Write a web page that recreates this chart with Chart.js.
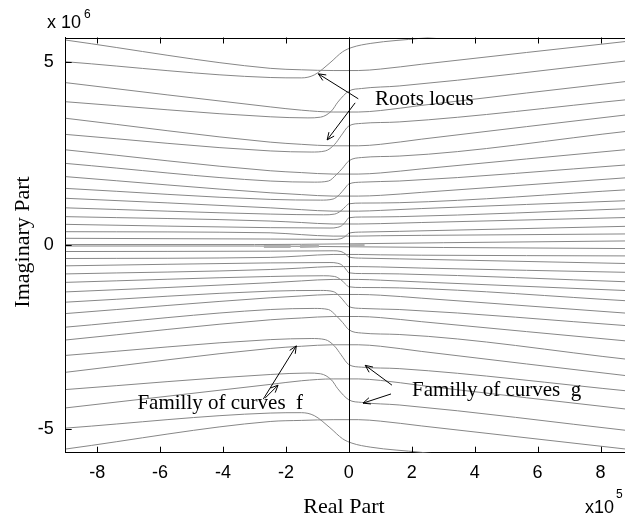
<!DOCTYPE html>
<html><head><meta charset="utf-8">
<script src="https://cdn.jsdelivr.net/npm/chart.js@4/dist/chart.umd.min.js"></script>
<style>
html,body{margin:0;padding:0;background:#fff;overflow:hidden;width:625px;height:518px}
#wrap{position:absolute;left:0;top:0;width:640px;height:518px}
</style></head><body>
<div id="wrap"><canvas id="c" width="640" height="518"></canvas></div>
<script>
// tick labels (x in units of 1e5, y in units of 1e6)
const xTicks = [-8,-6,-4,-2,0,2,4,6,8];
const yTicks = [-5,0,5];

// upper half: smooth bowl-shaped curves
const curveA1 = [[-9,5.59],[-2.5,4.82],[-1.5,4.78],[-0.5,4.76],[0.3,4.76],[1,4.80],[2.3,4.93],[9,5.57]];
const curveA2 = [[-9,4.43],[-2.5,3.77],[-1.5,3.68],[-0.5,3.63],[0.3,3.63],[1,3.67],[2.3,3.81],[9,4.48]];
const curveA3 = [[-9,3.46],[-2.5,2.81],[-1.5,2.75],[-0.5,2.71],[0.3,2.71],[1,2.75],[2.3,2.89],[9,3.57]];
const curveA4 = [[-9,2.60],[-2.5,2.03],[-1.5,1.98],[-0.5,1.94],[0.3,1.94],[1,1.97],[2.3,2.08],[9,2.62]];
const curveA5 = [[-9,1.87],[-2.5,1.43],[-1.5,1.38],[-0.5,1.34],[0.3,1.34],[1,1.36],[2.3,1.44],[9,1.85]];
const curveA6 = [[-9,1.28],[-2.5,1.02],[-1.5,0.97],[-0.5,0.93],[0.3,0.93],[1,0.95],[2.3,1.00],[9,1.22]];
const curveA7 = [[-9,0.78],[-2.5,0.66],[-1.5,0.62],[-0.5,0.58],[0.3,0.58],[1,0.59],[2.3,0.62],[9,0.76]];
const curveA8 = [[-9,0.37],[-2.5,0.34],[-1.5,0.29],[-0.5,0.25],[0.3,0.25],[1,0.26],[2.3,0.27],[9,0.31]];
// upper half: curves with a dip and a step near the imaginary axis
const curveB1 = [[-9,5.00],[-2.5,4.57],[-1.5,4.56],[-1.1,4.64],[-0.6,4.97],[-0.2,5.27],[0.1,5.39],[0.7,5.50],[2.3,5.64],[9,6.31]];
const curveB2 = [[-9,3.91],[-2.5,3.50],[-1.3,3.47],[-0.9,3.49],[-0.55,3.66],[-0.35,3.90],[0,4.20],[0.4,4.27],[1.6,4.34],[9,5.04]];
const curveB3 = [[-9,3.02],[-2.5,2.57],[-1.2,2.54],[-0.75,2.57],[-0.45,2.75],[-0.25,2.98],[0,3.25],[0.4,3.32],[1.6,3.36],[9,3.98]];
const curveB4 = [[-9,2.23],[-2.5,1.75],[-1.1,1.72],[-0.65,1.75],[-0.4,1.92],[-0.2,2.10],[0,2.30],[0.4,2.39],[1.6,2.43],[9,3.12]];
const curveB5 = [[-9,1.55],[-2.5,1.25],[-0.9,1.23],[-0.5,1.26],[-0.3,1.38],[-0.12,1.56],[0,1.67],[0.4,1.72],[1.6,1.75],[9,2.20]];
const curveB6 = [[-9,1.02],[-2.5,0.85],[-0.8,0.83],[-0.45,0.85],[-0.25,0.94],[-0.1,1.06],[0,1.13],[0.4,1.15],[1.6,1.16],[9,1.52]];
const curveB7 = [[-9,0.57],[-2.5,0.48],[-0.6,0.47],[-0.35,0.49],[-0.2,0.55],[-0.07,0.68],[0,0.75],[0.4,0.77],[1.6,0.78],[9,1.00]];
const curveB8 = [[-9,0.19],[-2.5,0.17],[-0.5,0.16],[-0.25,0.18],[-0.1,0.25],[0,0.33],[0.4,0.36],[1.6,0.38],[9,0.52]];
// lower half (conjugate branches)
const curveC1 = [[-9,-5.55],[-2.5,-4.80],[-1.5,-4.77],[-0.5,-4.75],[0.3,-4.75],[1,-4.79],[2.3,-4.92],[9,-5.57]];
const curveC2 = [[-9,-4.43],[-2.5,-3.79],[-1.5,-3.69],[-0.5,-3.64],[0.3,-3.64],[1,-3.68],[2.3,-3.82],[9,-4.48]];
const curveC3 = [[-9,-3.46],[-2.5,-2.81],[-1.5,-2.75],[-0.5,-2.71],[0.3,-2.71],[1,-2.75],[2.3,-2.89],[9,-3.57]];
const curveC4 = [[-9,-2.58],[-2.5,-2.03],[-1.5,-1.98],[-0.5,-1.94],[0.3,-1.94],[1,-1.97],[2.3,-2.08],[9,-2.62]];
const curveC5 = [[-9,-1.86],[-2.5,-1.43],[-1.5,-1.38],[-0.5,-1.34],[0.3,-1.34],[1,-1.36],[2.3,-1.44],[9,-1.86]];
const curveC6 = [[-9,-1.27],[-2.5,-1.02],[-1.5,-0.97],[-0.5,-0.93],[0.3,-0.93],[1,-0.95],[2.3,-1.00],[9,-1.24]];
const curveC7 = [[-9,-0.78],[-2.5,-0.66],[-1.5,-0.62],[-0.5,-0.58],[0.3,-0.58],[1,-0.59],[2.3,-0.62],[9,-0.74]];
const curveC8 = [[-9,-0.36],[-2.5,-0.33],[-1.5,-0.29],[-0.5,-0.25],[0.3,-0.25],[1,-0.26],[2.3,-0.27],[9,-0.29]];
const curveD1 = [[-9,-4.98],[-2.5,-4.57],[-1.5,-4.56],[-1.1,-4.64],[-0.6,-4.97],[-0.2,-5.27],[0.1,-5.39],[0.7,-5.50],[2.3,-5.64],[9,-6.31]];
const curveD2 = [[-9,-3.93],[-2.5,-3.52],[-1.3,-3.48],[-0.9,-3.50],[-0.55,-3.67],[-0.35,-3.91],[0,-4.21],[0.4,-4.28],[1.6,-4.35],[9,-5.06]];
const curveD3 = [[-9,-3.00],[-2.5,-2.57],[-1.2,-2.54],[-0.75,-2.57],[-0.45,-2.75],[-0.25,-2.98],[0,-3.25],[0.4,-3.32],[1.6,-3.36],[9,-3.98]];
const curveD4 = [[-9,-2.23],[-2.5,-1.75],[-1.1,-1.72],[-0.65,-1.75],[-0.4,-1.92],[-0.2,-2.10],[0,-2.30],[0.4,-2.39],[1.6,-2.43],[9,-3.12]];
const curveD5 = [[-9,-1.55],[-2.5,-1.25],[-0.9,-1.23],[-0.5,-1.26],[-0.3,-1.38],[-0.12,-1.56],[0,-1.67],[0.4,-1.72],[1.6,-1.75],[9,-2.20]];
const curveD6 = [[-9,-1.01],[-2.5,-0.85],[-0.8,-0.83],[-0.45,-0.85],[-0.25,-0.94],[-0.1,-1.06],[0,-1.13],[0.4,-1.15],[1.6,-1.16],[9,-1.52]];
const curveD7 = [[-9,-0.56],[-2.5,-0.48],[-0.6,-0.47],[-0.35,-0.49],[-0.2,-0.55],[-0.07,-0.68],[0,-0.75],[0.4,-0.77],[1.6,-0.78],[9,-1.00]];
const curveD8 = [[-9,-0.17],[-2.5,-0.16],[-0.5,-0.15],[-0.25,-0.17],[-0.1,-0.24],[0,-0.32],[0.4,-0.35],[1.6,-0.37],[9,-0.50]];
// near-real-axis branches
const curveZ1 = [[-9,0.02],[-3,0.02],[0,0.04],[3,0.07],[9,0.12]];
const curveZ2 = [[-9,-0.02],[-3,-0.02],[0,-0.04],[3,-0.06],[9,-0.09]];
// real-root segments (drawn thick)
const realSeg1 = [[-2.7,-0.03],[-1.85,-0.03]];
const realSeg2 = [[-1.55,-0.03],[-0.95,-0.02]];
const realSeg3 = [[0.02,0.0],[0.5,0.0]];

// annotations: text anchors and arrows (tail x, tail y, head x, head y)
const noteTexts = ['Roots locus', 'Familly of curves  f', 'Familly of curves  g'];
const noteAt = [[0.83,3.82],[-6.72,-4.47],[2.01,-4.10]];
const arrows = [[0.30,3.99,-0.97,4.67],[0.20,3.88,-0.69,2.87],[-2.72,-4.19,-1.67,-2.74],[-2.66,-4.16,-2.25,-3.81],[1.37,-3.81,0.52,-3.27],[1.34,-4.05,0.45,-4.30]];

const thinCurves = [curveA1,curveA2,curveA3,curveA4,curveA5,curveA6,curveA7,curveA8,
  curveB1,curveB2,curveB3,curveB4,curveB5,curveB6,curveB7,curveB8,
  curveC1,curveC2,curveC3,curveC4,curveC5,curveC6,curveC7,curveC8,
  curveD1,curveD2,curveD3,curveD4,curveD5,curveD6,curveD7,curveD8,curveZ1,curveZ2];
const thickCurves = [realSeg1,realSeg2,realSeg3];

const SANS = '"Liberation Sans", Arial, Helvetica, sans-serif';
const SERIF = '"Liberation Serif", "Times New Roman", Times, serif';

const datasets = [];
thickCurves.forEach(c => datasets.push({
  data: c.map(([x,y]) => ({x,y})), showLine:true, borderColor:'#b0b0b0', borderWidth:3,
  pointRadius:0, fill:false
}));
thinCurves.forEach(c => datasets.push({
  data: c.map(([x,y]) => ({x,y})), showLine:true, borderColor:'#878787', borderWidth:1,
  pointRadius:0, fill:false, cubicInterpolationMode:'monotone'
}));

const extras = {
  id:'extras',
  afterDatasetsDraw(chart){
    const {ctx, chartArea:a, scales:{x, y}} = chart;
    ctx.save();
    ctx.strokeStyle = '#000'; ctx.lineWidth = 1;
    ctx.beginPath();
    ctx.moveTo(a.left, Math.round(a.top)+0.5); ctx.lineTo(a.right, Math.round(a.top)+0.5);
    const x0 = Math.round(x.getPixelForValue(0))+0.5;
    ctx.moveTo(x0, a.top); ctx.lineTo(x0, a.bottom);
    xTicks.forEach(v => {
      const px = Math.round(x.getPixelForValue(v))+0.5;
      ctx.moveTo(px, a.bottom); ctx.lineTo(px, a.bottom-6);
      ctx.moveTo(px, a.top); ctx.lineTo(px, a.top+6);
    });
    yTicks.forEach(v => {
      const py = Math.round(y.getPixelForValue(v))+0.5;
      ctx.moveTo(a.left, py); ctx.lineTo(a.left+6, py);
      ctx.moveTo(a.right, py); ctx.lineTo(a.right-6, py);
    });
    ctx.stroke();

    // arrows
    arrows.forEach(([tx,ty,hx,hy]) => {
      const x1 = x.getPixelForValue(tx), y1 = y.getPixelForValue(ty);
      const x2 = x.getPixelForValue(hx), y2 = y.getPixelForValue(hy);
      const ang = Math.atan2(y2-y1, x2-x1), L = 8, s = 0.42;
      ctx.beginPath();
      ctx.moveTo(x1,y1); ctx.lineTo(x2,y2);
      ctx.moveTo(x2 - L*Math.cos(ang-s), y2 - L*Math.sin(ang-s));
      ctx.lineTo(x2,y2);
      ctx.lineTo(x2 - L*Math.cos(ang+s), y2 - L*Math.sin(ang+s));
      ctx.stroke();
    });

    ctx.fillStyle = '#000';
    ctx.textBaseline = 'alphabetic';
    ctx.textAlign = 'left';
    ctx.font = '21px ' + SERIF;
    noteTexts.forEach((t,i) => {
      ctx.fillText(t, x.getPixelForValue(noteAt[i][0]), y.getPixelForValue(noteAt[i][1]));
    });

    // axis titles
    ctx.font = '22px ' + SERIF;
    ctx.textAlign = 'center';
    ctx.fillText('Real Part', 344, 513);
    ctx.save();
    ctx.translate(29, 242);
    ctx.rotate(-Math.PI/2);
    ctx.fillText('Imaginary Part', 0, 0);
    ctx.restore();

    // multipliers
    ctx.textAlign = 'left';
    ctx.font = '18px ' + SANS;
    ctx.fillText('x 10', 47, 28);
    ctx.fillText('x10', 585, 513);
    ctx.font = '12px ' + SANS;
    ctx.fillText('6', 84, 18);
    ctx.fillText('5', 616, 498);
    ctx.restore();
  }
};

new Chart(document.getElementById('c'), {
  type:'scatter',
  data:{datasets},
  options:{
    responsive:false, devicePixelRatio:1, animation:false,
    layout:{padding:{top:37.5, right:8, bottom:0, left:0}},
    plugins:{legend:{display:false}, tooltip:{enabled:false}},
    scales:{
      x:{type:'linear', min:-9, max:9,
        afterBuildTicks: s => { s.ticks = xTicks.map(v => ({value:v})); },
        afterFit: s => { s.height = 65.3; },
        grid:{display:false, drawTicks:false},
        border:{display:true, color:'#000', width:1},
        ticks:{color:'#000', font:{family:SANS, size:18}, padding:10, maxRotation:0, autoSkip:false,
          callback: v => String(v)}
      },
      y:{type:'linear', min:-5.65, max:5.66,
        afterBuildTicks: s => { s.ticks = yTicks.map(v => ({value:v})); },
        afterFit: s => { s.width = 65.7; },
        grid:{display:false, drawTicks:false},
        border:{display:true, color:'#000', width:1},
        ticks:{color:'#000', font:{family:SANS, size:18}, padding:12, autoSkip:false,
          callback: v => String(v)}
      }
    }
  },
  plugins:[extras]
});
</script>
</body></html>
